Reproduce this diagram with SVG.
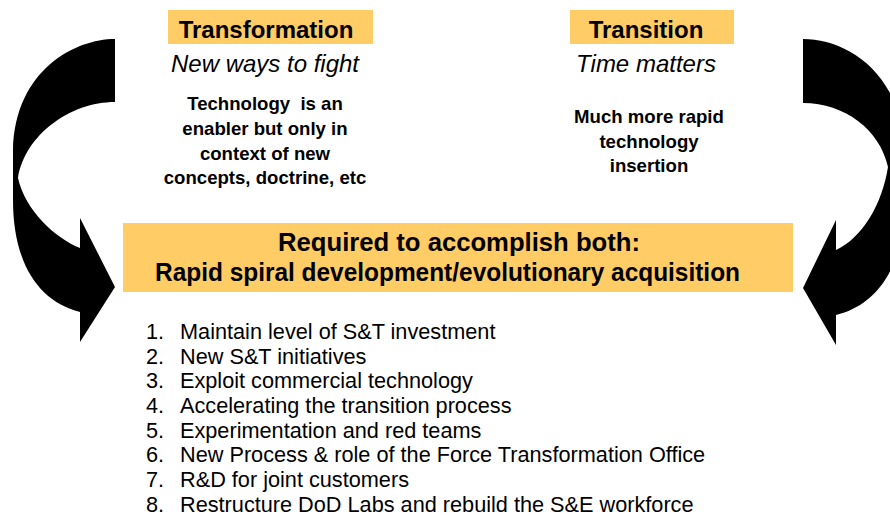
<svg xmlns="http://www.w3.org/2000/svg" width="890" height="515" viewBox="0 0 890 515">
<style>
text{font-family:"Liberation Sans",Arial,sans-serif;fill:#000}
.box{fill:#FFCC66}
.title{font-size:24px;font-weight:bold;text-anchor:middle}
.sub{font-size:24px;font-style:italic;text-anchor:middle}
.body{font-size:18.6px;font-weight:bold;text-anchor:middle}
.req{font-size:25px;font-weight:bold}
.li{font-size:21.7px}
.arrow{fill:#000}
</style>
<rect width="890" height="515" fill="#fff"/>
<g id="connectors">
<path class="arrow" d="M115,39 C75,39 15,70 13,150 L13,200 C13,265 40,302 80,312 L80,342 L115,287 L80,218 L80,248 C55,238 25,210 18,178 C25,135 70,102 115,102 Z"/>
<path class="arrow" d="M803,39 C845,39 900,70 905,150 L905,200 C905,265 878,305 836,315 L836,345 L803,288 L836,220 L836,250 C862,238 882,205 888,167 C880,130 845,103 803,103 Z"/>
</g>
<g id="transformation">
<rect class="box" x="168" y="10" width="205" height="34"/>
<text class="title" x="266" y="38">Transformation</text>
<text class="sub" x="265" y="72">New ways to fight</text>
<text class="body" x="265" y="110" xml:space="preserve">Technology  is an</text>
<text class="body" x="265" y="135">enabler but only in</text>
<text class="body" x="265" y="159.5">context of new</text>
<text class="body" x="265" y="184">concepts, doctrine, etc</text>
</g>
<g id="transition">
<rect class="box" x="570" y="10" width="164" height="34"/>
<text class="title" x="646" y="38">Transition</text>
<text class="sub" x="646" y="72">Time matters</text>
<text class="body" x="649" y="123">Much more rapid</text>
<text class="body" x="649" y="147.5">technology</text>
<text class="body" x="649" y="172">insertion</text>
</g>
<g id="required">
<rect class="box" x="123" y="223" width="670" height="69"/>
<text class="req" x="278" y="251" textLength="362" lengthAdjust="spacingAndGlyphs">Required to accomplish both:</text>
<text class="req" x="155" y="281" textLength="585" lengthAdjust="spacingAndGlyphs">Rapid spiral development/evolutionary acquisition</text>
</g>
<g id="list">
<text class="li" x="146" y="339">1.</text><text class="li" x="180" y="339">Maintain level of S&amp;T investment</text>
<text class="li" x="146" y="363.6">2.</text><text class="li" x="180" y="363.6">New S&amp;T initiatives</text>
<text class="li" x="146" y="388.3">3.</text><text class="li" x="180" y="388.3">Exploit commercial technology</text>
<text class="li" x="146" y="412.9">4.</text><text class="li" x="180" y="412.9">Accelerating the transition process</text>
<text class="li" x="146" y="437.6">5.</text><text class="li" x="180" y="437.6">Experimentation and red teams</text>
<text class="li" x="146" y="462.2">6.</text><text class="li" x="180" y="462.2">New Process &amp; role of the Force Transformation Office</text>
<text class="li" x="146" y="486.9">7.</text><text class="li" x="180" y="486.9">R&amp;D for joint customers</text>
<text class="li" x="146" y="511.5">8.</text><text class="li" x="180" y="511.5">Restructure DoD Labs and rebuild the S&amp;E workforce</text>
</g>
</svg>
